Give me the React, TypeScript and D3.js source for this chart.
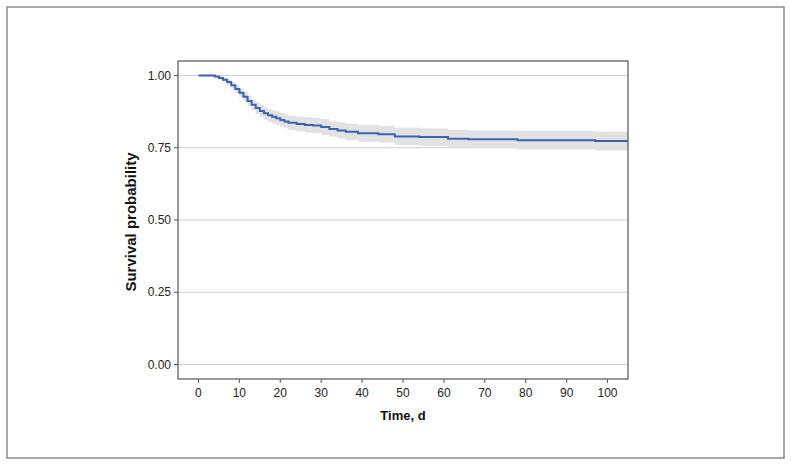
import React from "react";
import * as d3 from "d3";

const times = [0, 4, 5, 6, 7, 8, 9, 10, 11, 12, 13, 14, 15, 16, 17, 18, 19, 20, 21, 22, 24, 26, 28, 30, 32, 34, 36, 39, 44, 48, 54, 61, 66, 78, 97];
const survival = [1.0, 0.996, 0.991, 0.985, 0.977, 0.966, 0.953, 0.94, 0.926, 0.912, 0.899, 0.887, 0.877, 0.869, 0.862, 0.857, 0.852, 0.846, 0.841, 0.836, 0.832, 0.829, 0.827, 0.822, 0.815, 0.81, 0.805, 0.8, 0.797, 0.789, 0.787, 0.781, 0.779, 0.776, 0.773];
const lower = [1.0, 0.992, 0.985, 0.977, 0.967, 0.954, 0.939, 0.925, 0.909, 0.894, 0.88, 0.867, 0.856, 0.847, 0.84, 0.834, 0.829, 0.822, 0.817, 0.811, 0.807, 0.803, 0.801, 0.795, 0.788, 0.782, 0.777, 0.771, 0.768, 0.759, 0.757, 0.75, 0.748, 0.744, 0.74];
const upper = [1.0, 1.0, 0.997, 0.993, 0.987, 0.978, 0.967, 0.955, 0.943, 0.93, 0.918, 0.907, 0.898, 0.891, 0.884, 0.88, 0.875, 0.87, 0.865, 0.861, 0.857, 0.855, 0.853, 0.849, 0.842, 0.838, 0.833, 0.829, 0.826, 0.819, 0.817, 0.812, 0.81, 0.808, 0.806];
const endTime = 105;
const xTicks = [0, 10, 20, 30, 40, 50, 60, 70, 80, 90, 100];
const yTicks = [0, 0.25, 0.5, 0.75, 1.0];

export default function App() {
  const W = 791, H = 465;
  const left = 178, right = 628, top = 61, bottom = 379;
  const x = d3.scaleLinear().domain([-5, 105]).range([left, right]);
  const y = d3.scaleLinear().domain([-0.05, 1.05]).range([bottom, top]);

  const data = times.map((t, i) => ({ t, s: survival[i], lo: lower[i], hi: upper[i] }));
  const ext = [...data, { t: endTime, s: survival[survival.length - 1], lo: lower[lower.length - 1], hi: upper[upper.length - 1] }];

  const line = d3.line<any>().x(d => x(d.t)).y(d => y(d.s)).curve(d3.curveStepAfter);
  const area = d3.area<any>().x(d => x(d.t)).y0(d => y(d.lo)).y1(d => y(d.hi)).curve(d3.curveStepAfter);

  const font = "'Liberation Sans', Arial, Helvetica, sans-serif";

  return (
    <svg width={W} height={H} style={{ position: "absolute", left: 0, top: 0, background: "#fff" }} fontFamily={font}>
      <rect x={7} y={7} width={777} height={451} fill="#fff" stroke="#8a8a8a" strokeWidth={1.5} />
      <defs>
        <clipPath id="pc"><rect x={left} y={top} width={right - left} height={bottom - top} /></clipPath>
      </defs>
      {yTicks.map(v => (
        <line key={"g" + v} x1={left} x2={right} y1={y(v)} y2={y(v)} stroke="#cfcfcf" strokeWidth={1} />
      ))}
      <g clipPath="url(#pc)">
        <path d={area(ext) || ""} fill="#e2e2e2" stroke="none" />
        <path d={line(ext) || ""} fill="none" stroke="#3b63b0" strokeWidth={2} />
      </g>
      <rect x={left} y={top} width={right - left} height={bottom - top} fill="none" stroke="#555" strokeWidth={1.2} />
      {yTicks.map(v => (
        <g key={"y" + v}>
          <line x1={left - 4} x2={left} y1={y(v)} y2={y(v)} stroke="#555" strokeWidth={1} />
          <text x={left - 7} y={y(v)} dy="0.35em" textAnchor="end" fontSize={12} fill="#222">{v.toFixed(2)}</text>
        </g>
      ))}
      {xTicks.map(v => (
        <g key={"x" + v}>
          <line x1={x(v)} x2={x(v)} y1={bottom} y2={bottom + 4} stroke="#555" strokeWidth={1} />
          <text x={x(v)} y={bottom + 18} textAnchor="middle" fontSize={12} fill="#222">{v}</text>
        </g>
      ))}
      <text x={(left + right) / 2} y={420} textAnchor="middle" fontSize={13} fontWeight="bold" fill="#111">Time, d</text>
      <text transform={`translate(136,${(top + bottom) / 2 + 2}) rotate(-90)`} textAnchor="middle" fontSize={15} fontWeight="bold" fill="#111">Survival probability</text>
    </svg>
  );
}
